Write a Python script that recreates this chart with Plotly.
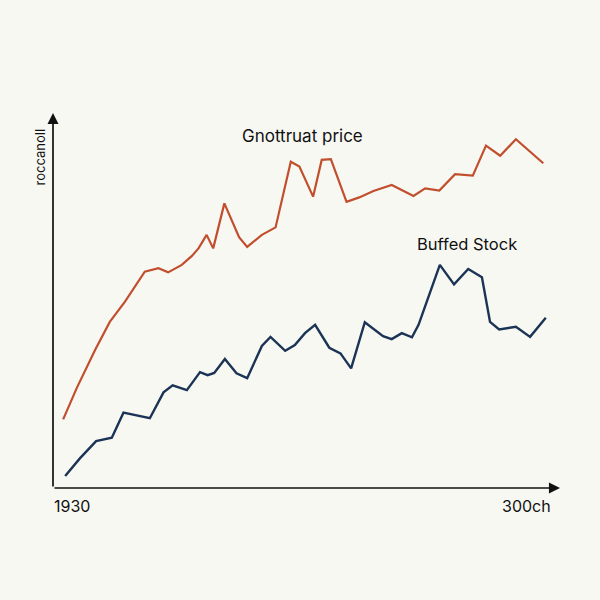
import plotly.graph_objects as go

# Data (x on a 0-100 scale along the axis, values on a 0-100 scale)
price_x = [2.0, 4.7, 8.3, 11.2, 14.2, 18.1, 20.8, 22.7, 25.4, 27.4, 28.7, 30.3, 31.6, 33.8,
           36.7, 38.3, 41.2, 43.9, 46.9, 48.6, 51.3, 53.0, 54.8, 57.9, 60.4, 63.2, 66.8,
           71.1, 73.4, 76.2, 79.3, 82.8, 85.4, 88.2, 91.3, 96.7]
price_y = [18.3, 26.7, 36.8, 44.3, 49.7, 57.7, 58.6, 57.5, 59.5, 61.9, 63.9, 67.5, 63.9, 75.9,
           66.9, 64.3, 67.5, 69.5, 87.0, 85.7, 77.7, 87.5, 87.7, 76.3, 77.5, 79.2, 80.8,
           77.9, 79.9, 79.3, 83.7, 83.3, 91.3, 88.6, 93.0, 86.6]

stock_x = [2.4, 5.3, 8.5, 11.6, 13.9, 19.1, 21.8, 23.6, 26.4, 29.0, 30.5, 31.8, 33.9, 36.2,
           38.3, 41.2, 42.9, 45.8, 47.7, 49.7, 51.7, 54.5, 56.7, 58.8, 61.5, 65.1, 66.8,
           68.8, 70.8, 72.1, 76.3, 79.1, 81.9, 84.6, 86.2, 88.0, 91.3, 94.1, 97.2]
stock_y = [3.2, 7.9, 12.5, 13.4, 20.1, 18.6, 25.5, 27.4, 26.1, 30.9, 30.1, 30.7, 34.4, 30.6,
           29.3, 37.9, 40.3, 36.6, 38.1, 41.3, 43.5, 37.4, 35.9, 31.9, 44.2, 40.5, 39.7,
           41.3, 40.2, 43.5, 59.5, 54.3, 58.4, 56.2, 44.3, 42.3, 43.0, 40.3, 45.4]

x_labels = ["1930", "300ch"]
y_title = "roccanoll"
price_name = "Gnottruat price"
stock_name = "Buffed Stock"

BG = "#f8f8f3"
ORANGE = "#c14f2d"
NAVY = "#1b3354"
FONT = "Inter"
TXT = "#111111"

fig = go.Figure()
fig.add_trace(go.Scatter(x=price_x, y=price_y, mode="lines",
                         line=dict(color=ORANGE, width=2.2), name=price_name))
fig.add_trace(go.Scatter(x=stock_x, y=stock_y, mode="lines",
                         line=dict(color=NAVY, width=2.4), name=stock_name))

# plot area spans paper 0..1; helpers for positions in paper units
PW, PH = 507.0, 375.0

annotations = [
    # axes arrows
    dict(x=100, y=0, ax=0, ay=0, xref="x", yref="y", axref="x", ayref="y",
         showarrow=True, arrowhead=2, arrowsize=1.3, arrowwidth=1.7, arrowcolor=TXT, text=""),
    dict(x=0, y=100, ax=0, ay=0, xref="x", yref="y", axref="x", ayref="y",
         showarrow=True, arrowhead=2, arrowsize=1.3, arrowwidth=1.7, arrowcolor=TXT, text=""),
    # tick labels
    dict(x=-1.5 / PW, y=-18 / PH, xref="paper", yref="paper", text=x_labels[0], showarrow=False,
         xanchor="left", yanchor="middle", font=dict(family=FONT, size=16, color=TXT)),
    dict(x=500 / PW, y=-18 / PH, xref="paper", yref="paper", text=x_labels[1], showarrow=False,
         xanchor="right", yanchor="middle", font=dict(family=FONT, size=16, color=TXT)),
    # y label
    dict(x=-14 / PW, y=(488 - 157.5) / PH, xref="paper", yref="paper", text=y_title,
         showarrow=False, textangle=-90, xanchor="center", yanchor="middle",
         font=dict(family=FONT, size=13, color=TXT)),
    # series labels
    dict(x=49.3, y=93.9, xref="x", yref="y", text=price_name, showarrow=False,
         xanchor="center", yanchor="middle", font=dict(family=FONT, size=17, color=TXT)),
    dict(x=81.7, y=65.1, xref="x", yref="y", text=stock_name, showarrow=False,
         xanchor="center", yanchor="middle", font=dict(family=FONT, size=16.5, color=TXT)),
]

fig.update_layout(
    width=600, height=600,
    paper_bgcolor=BG, plot_bgcolor=BG,
    margin=dict(l=53, r=40, t=113, b=112),
    showlegend=False,
    annotations=annotations,
    xaxis=dict(range=[0, 100], showgrid=False, zeroline=False, showticklabels=False,
               showline=False, ticks=""),
    yaxis=dict(range=[0, 100], showgrid=False, zeroline=False, showticklabels=False,
               showline=False, ticks=""),
)

fig.write_html(
    "out.html",
    config={"displayModeBar": False},
    post_script=(
        "document.body.style.margin='0';document.body.style.padding='0';"
        "document.body.style.overflow='hidden';"
        "document.body.style.background='" + BG + "';"
    ),
)
